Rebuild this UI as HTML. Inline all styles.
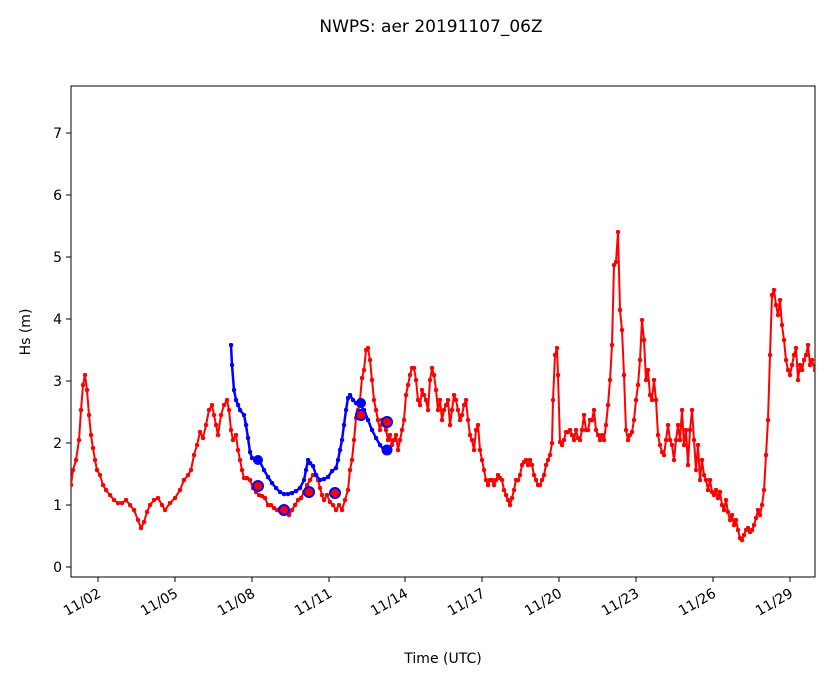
<!DOCTYPE html>
<html><head><style>
body{margin:0;background:#fff}
text{font-family:"DejaVu Sans","Liberation Sans",sans-serif;fill:#000}
</style></head><body>
<svg width="833" height="681" xmlns="http://www.w3.org/2000/svg">
<defs>
<marker id="r" viewBox="0 0 6 6" refX="3" refY="3" markerWidth="4.5" markerHeight="4.5" markerUnits="userSpaceOnUse"><circle cx="3" cy="3" r="3" fill="red"/></marker>
<marker id="b" viewBox="0 0 6 6" refX="3" refY="3" markerWidth="4.5" markerHeight="4.5" markerUnits="userSpaceOnUse"><circle cx="3" cy="3" r="3" fill="blue"/></marker>
</defs>
<text x="431" y="32" font-size="17" text-anchor="middle">NWPS: aer 20191107_06Z</text>
<rect x="71" y="86" width="744" height="491" fill="none" stroke="#000" stroke-width="1"/>
<g font-size="14" text-anchor="end">
<line x1="66" y1="567" x2="71" y2="567" stroke="#000"/><text x="62" y="572">0</text>
<line x1="66" y1="505" x2="71" y2="505" stroke="#000"/><text x="62" y="510">1</text>
<line x1="66" y1="443" x2="71" y2="443" stroke="#000"/><text x="62" y="448">2</text>
<line x1="66" y1="381" x2="71" y2="381" stroke="#000"/><text x="62" y="386">3</text>
<line x1="66" y1="319" x2="71" y2="319" stroke="#000"/><text x="62" y="324">4</text>
<line x1="66" y1="257" x2="71" y2="257" stroke="#000"/><text x="62" y="262">5</text>
<line x1="66" y1="195" x2="71" y2="195" stroke="#000"/><text x="62" y="200">6</text>
<line x1="66" y1="133" x2="71" y2="133" stroke="#000"/><text x="62" y="138">7</text>
</g>
<g font-size="14" text-anchor="end">
<g transform="translate(98,0)"><line x1="0" y1="577" x2="0" y2="582" stroke="#000"/><text transform="translate(4,596) rotate(-30)">11/02</text></g>
<g transform="translate(175,0)"><line x1="0" y1="577" x2="0" y2="582" stroke="#000"/><text transform="translate(4,596) rotate(-30)">11/05</text></g>
<g transform="translate(252,0)"><line x1="0" y1="577" x2="0" y2="582" stroke="#000"/><text transform="translate(4,596) rotate(-30)">11/08</text></g>
<g transform="translate(329,0)"><line x1="0" y1="577" x2="0" y2="582" stroke="#000"/><text transform="translate(4,596) rotate(-30)">11/11</text></g>
<g transform="translate(405,0)"><line x1="0" y1="577" x2="0" y2="582" stroke="#000"/><text transform="translate(4,596) rotate(-30)">11/14</text></g>
<g transform="translate(482,0)"><line x1="0" y1="577" x2="0" y2="582" stroke="#000"/><text transform="translate(4,596) rotate(-30)">11/17</text></g>
<g transform="translate(559,0)"><line x1="0" y1="577" x2="0" y2="582" stroke="#000"/><text transform="translate(4,596) rotate(-30)">11/20</text></g>
<g transform="translate(636,0)"><line x1="0" y1="577" x2="0" y2="582" stroke="#000"/><text transform="translate(4,596) rotate(-30)">11/23</text></g>
<g transform="translate(713,0)"><line x1="0" y1="577" x2="0" y2="582" stroke="#000"/><text transform="translate(4,596) rotate(-30)">11/26</text></g>
<g transform="translate(790,0)"><line x1="0" y1="577" x2="0" y2="582" stroke="#000"/><text transform="translate(4,596) rotate(-30)">11/29</text></g>
</g>
<text x="443" y="663" font-size="14" text-anchor="middle">Time (UTC)</text>
<text transform="translate(30,332) rotate(-90)" font-size="14" text-anchor="middle">Hs (m)</text>
<svg x="71" y="86" width="744" height="491" viewBox="71 86 744 491" overflow="hidden">
<polyline fill="none" stroke="red" stroke-width="2" stroke-linejoin="round" marker-start="url(#r)" marker-mid="url(#r)" marker-end="url(#r)" points="71,485 73,470 76,460 79,440 81,410 83,385 85,375 87,390 89,415 91,435 93,448 95,460 97,470 100,475 103,485 106,490 110,495 114,500 118,503 122,503 126,500 130,505 134,510 138,520 141,528 144,522 147,512 150,505 154,500 158,498 162,505 165,510 170,503 175,498 180,490 184,480 188,475 191,470 194,455 197,445 200,432 203,438 206,425 209,410 212,405 214,415 216,425 218,435 221,415 224,405 227,400 229,410 231,430 233,440 236,435 238,450 240,460 242,470 244,478 247,478 250,480 253,488 256,492 259,495 262,496 265,498 268,505 271,505 274,508 277,510 280,509 283,510 286,512 289,515 292,510 295,505 298,500 301,498 304,492 307,485 310,480 313,475 316,475 318,480 320,488 322,495 324,500 327,495 330,502 333,505 336,510 339,505 342,510 345,500 348,490 350,470 352,460 354,440 356,418 358,410 360,400 362,378 364,370 366,350 368,348 370,360 372,380 374,400 376,410 378,420 380,430 382,420 384,425 386,430 388,440 390,435 392,445 394,440 396,435 398,450 400,440 402,430 404,420 406,395 408,385 410,375 412,368 414,368 416,380 418,400 420,405 422,390 424,395 426,400 428,410 430,380 432,368 434,375 436,390 438,410 440,400 442,420 444,410 446,405 448,400 450,425 452,410 454,395 456,400 458,410 460,420 462,415 464,405 466,400 468,420 470,435 472,440 474,450 476,430 478,425 480,450 482,460 484,470 486,480 488,485 490,480 492,480 494,485 496,480 498,475 500,478 502,480 504,490 506,495 508,500 510,505 512,498 514,490 516,480 518,480 520,475 522,465 524,462 526,460 528,465 530,460 532,465 534,475 536,480 538,485 540,485 542,480 544,475 546,465 548,460 550,455 552,443 553,400 555,355 557,348 558,375 560,442 562,445 564,440 566,432 568,432 570,430 572,435 574,440 576,430 578,438 580,440 582,430 584,415 586,430 588,430 590,420 592,420 594,410 596,430 598,435 600,440 602,435 604,440 606,425 608,405 610,380 612,345 614,265 616,262 618,232 620,310 622,330 624,375 626,430 628,440 630,435 632,432 634,420 636,400 638,385 640,360 642,320 644,340 646,380 648,370 650,395 652,400 654,380 656,400 658,435 660,445 662,452 664,455 666,440 668,425 670,440 672,445 674,460 676,440 678,425 680,440 682,410 684,445 686,430 688,465 690,430 692,410 694,440 696,470 698,445 700,480 702,460 704,475 706,480 708,490 710,480 712,492 714,495 716,490 718,498 720,492 722,505 724,510 726,500 728,512 730,520 732,515 734,525 736,520 738,530 740,538 742,540 744,535 746,530 748,528 750,532 752,530 754,525 756,518 758,510 760,515 762,505 764,490 766,455 768,420 770,355 772,295 774,290 776,305 778,315 780,300 782,325 784,340 786,360 788,370 790,375 792,365 794,355 796,348 798,380 800,365 802,370 804,360 806,355 808,345 810,365 812,360 815,370"/>
<polyline fill="none" stroke="blue" stroke-width="2.5" stroke-linejoin="round" marker-start="url(#b)" marker-mid="url(#b)" marker-end="url(#b)" points="231,345 232,365 234,390 236,400 238,405 240,410 244,415 246,425 248,438 250,452 252,458 256,460 260,462 264,470 268,477 272,483 276,488 280,492 284,494 288,494 292,493 296,491 300,488 304,480 306,470 308,460 310,463 313,466 316,475 320,480 324,479 328,477 332,471 336,468 338,460 340,450 342,440 344,425 346,410 348,398 350,395 353,400 356,403 360,405 364,410 368,420 372,430 376,438 380,445 384,450 386,452"/>
<g fill="red" stroke="blue" stroke-width="2">
<circle cx="258" cy="486" r="5"/><circle cx="284" cy="510" r="5"/><circle cx="309" cy="492" r="5"/><circle cx="335" cy="493" r="5"/><circle cx="361" cy="415" r="5"/><circle cx="387" cy="422" r="5"/>
</g>
<g fill="blue"><circle cx="258" cy="460" r="5"/><circle cx="361" cy="403" r="5"/><circle cx="387" cy="450" r="5.5"/></g>
</svg>
</svg>
</body></html>
